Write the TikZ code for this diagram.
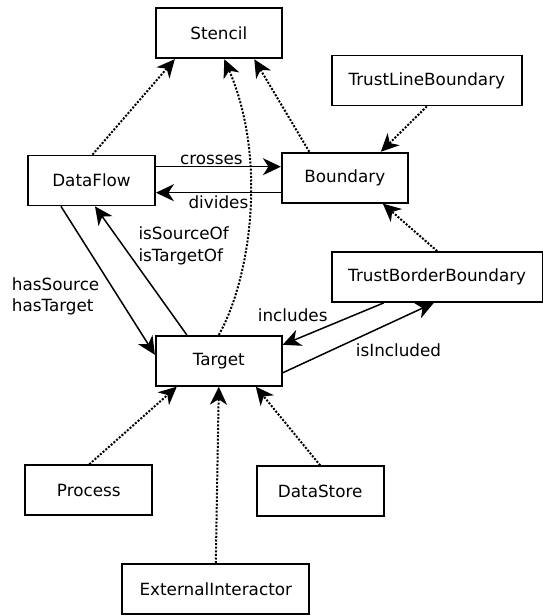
\documentclass[tikz,border=0pt]{standalone}
\usepackage{fontspec}
\setmainfont{DejaVu Sans}
\usetikzlibrary{positioning,calc,arrows.meta}

\begin{document}
\begin{tikzpicture}[x=1pt,y=-1pt,
                cls/.style={draw,line width=1.8pt,inner sep=0pt,minimum height=50pt,
                            font=\fontsize{16.8}{21}\selectfont},
                rel/.style={line width=1.5pt,-{Stealth[length=18pt,width=17pt,inset=5.5pt]}},
                isa/.style={rel,dash pattern=on 2pt off 1.6pt,line width=2pt},
                lbl/.style={font=\fontsize{16.8}{21.5}\selectfont,inner sep=1pt,align=left}
            ]
                \useasboundingbox (0,0) rectangle (542,616);
                % classes
                \node[cls,minimum width=126pt] (stencil) at (218.8,33.3) {Stencil};
                \node[cls,minimum width=190pt] (tlb) at (426.8,80.5) {TrustLineBoundary};
                \node[cls,minimum width=127pt] (flow) at (91.5,180.5) {DataFlow};
                \node[cls,minimum width=126pt] (bound) at (344.8,177.7) {Boundary};
                \node[cls,minimum width=211pt] (tbb) at (437.2,277) {TrustBorderBoundary};
                \node[cls,minimum width=126pt] (target) at (218.8,360.8) {Target};
                \node[cls,minimum width=127pt] (proc) at (88.8,490.2) {Process};
                \node[cls,minimum width=127pt] (store) at (320.2,491.3) {DataStore};
                \node[cls,minimum width=187pt] (ext) at (215.8,589) {ExternalInteractor};
                % inheritance
                \draw[isa] ([xshift=1pt]flow.north) -- ([xshift=-44pt]stencil.south);
                \draw[isa] (target.north) .. controls (250,280) and (268,160) .. ([xshift=5.5pt]stencil.south);
                \draw[isa] ([xshift=-35.5pt]bound.north) -- ([xshift=35.5pt]stencil.south);
                \draw[isa] (tlb.south) -- ([xshift=36pt]bound.north);
                \draw[isa] (tbb.north) -- ([xshift=38pt]bound.south);
                \draw[isa] ([xshift=0.5pt]proc.north) -- ([xshift=-42pt]target.south);
                \draw[isa] (ext.north) -- (target.south);
                \draw[isa] (store.north) -- ([xshift=37pt]target.south);
                % associations
                \draw[rel] ([yshift=13.8pt]flow.east) -- node[lbl,above,xshift=-7pt] {crosses} ([yshift=11pt]bound.west);
                \draw[rel] ([yshift=-15pt]bound.west) -- node[lbl,below,yshift=-1pt] {divides} ([yshift=-12.2pt]flow.east);
                \draw[rel] ([xshift=-30.5pt]flow.south) -- ([yshift=6pt]target.west);
                \draw[rel] ([xshift=-32pt]target.north) -- ([xshift=3.5pt]flow.south);
                \draw[rel] ([xshift=-53.5pt]tbb.south) -- ([yshift=16pt]target.east);
                \draw[rel] ([yshift=-12pt]target.east) -- ([xshift=-3.4pt]tbb.south);
                \node[lbl,anchor=west] (srclbl) at (10.7,296.5) {hasSource\\hasTarget};
                \node[lbl,anchor=west] (oflbl) at (137.3,245.8) {isSourceOf\\isTargetOf};
                \node[lbl] (inclbl) at (292.7,315.3) {includes};
                \node[lbl] (isinclbl) at (398.5,350.7) {isIncluded};
            \end{tikzpicture}
\end{document}
